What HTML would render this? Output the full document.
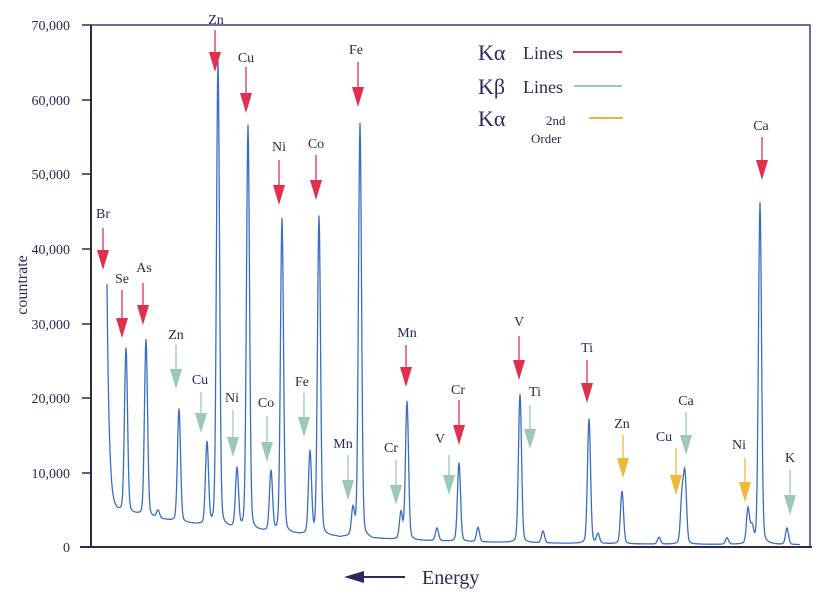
<!DOCTYPE html>
<html><head><style>
html,body{margin:0;padding:0;background:#fff;}
svg{display:block;font-family:"Liberation Serif",serif;}
</style></head><body>
<svg id="s" width="839" height="593" viewBox="0 0 839 593">
<rect x="91" y="25" width="719" height="522" fill="none" stroke="#3a3a8a" stroke-width="1.5"/>
<line x1="91" y1="25" x2="91" y2="547" stroke="#2a2a50" stroke-width="2"/>
<line x1="80" y1="547" x2="812" y2="547" stroke="#2a2a50" stroke-width="2"/>
<g fill="#2a2a50" font-size="14" text-anchor="end">
<text x="70" y="30">70,000</text><text x="70" y="105">60,000</text><text x="70" y="179">50,000</text>
<text x="70" y="254">40,000</text><text x="70" y="329">30,000</text><text x="70" y="403">20,000</text>
<text x="70" y="478">10,000</text><text x="70" y="552">0</text>
</g>
<g stroke="#2a2a50" stroke-width="1.5">
<line x1="82" y1="25" x2="91" y2="25"/><line x1="82" y1="100" x2="91" y2="100"/><line x1="82" y1="174" x2="91" y2="174"/>
<line x1="82" y1="249" x2="91" y2="249"/><line x1="82" y1="324" x2="91" y2="324"/><line x1="82" y1="398" x2="91" y2="398"/>
<line x1="82" y1="473" x2="91" y2="473"/>
</g>
<text transform="translate(27,285) rotate(-90)" font-size="16" fill="#2a2a50" text-anchor="middle">countrate</text>
<path id="spec" fill="none" stroke="#3a6fc0" stroke-width="1.3"/>
<g id="arr"></g>
<g font-size="22" fill="#2a2a60">
<text x="478" y="60">Kα</text><text x="478" y="94">Kβ</text><text x="478" y="126">Kα</text>
</g>
<g font-size="18" fill="#2a2a50"><text x="523" y="59">Lines</text><text x="523" y="93">Lines</text></g>
<g font-size="13" fill="#2a2a50"><text x="546" y="125">2nd</text><text x="531" y="143">Order</text></g>
<line x1="573" y1="52" x2="622" y2="52" stroke="#d84060" stroke-width="2"/>
<line x1="574" y1="86" x2="622" y2="86" stroke="#9cc8b8" stroke-width="2"/>
<line x1="589" y1="118" x2="623" y2="118" stroke="#f0b040" stroke-width="2"/>
<line x1="350" y1="577" x2="405" y2="577" stroke="#2a2a60" stroke-width="2"/>
<polygon points="344,577 364,571 364,583" fill="#2a2a60"/>
<text x="422" y="584" font-size="20" fill="#2a2a50">Energy</text>
</svg>
<script>
var Y=function(v){return 547-v*0.007457;};
var pk=[[126,26700],[146,27800],[158,4800],[179,18500],[207,13800],[218,65000],[237,10300],[248,56500],[271,10000],[282,44000],[310,12600],[319,44300],[340,1200],[353,4800],[360,56800],[373,1000],[401,4500],[407,19500],[437,2500],[459,11300],[478,2600],[520,20500],[543,2100],[589,17200],[598,1700],[622,7500],[659,1300],[682,6500],[685,9300],[727,1200],[748,5000],[752,2500],[760,46200],[787,2500]];
function base(x){return 4800*Math.exp(-(x-112)/150)+250;}
var d="";
for(var x=107;x<=800;x+=0.5){
 var b=base(x);
 b+=30000*Math.exp(-(x-107)/2.2);
 var v=b;
 for(var i=0;i<pk.length;i++){var dx=x-pk[i][0];var h=(pk[i][1]-base(pk[i][0]))*1.0;
  v+=h*(0.88*Math.exp(-dx*dx/(2*1.5*1.5))+0.12/(1+dx*dx/6));}
 d+=(x==107?"M":"L")+x+","+Y(v).toFixed(1);
}
document.getElementById("spec").setAttribute("d",d);
var R="#e03050",G="#9cc8b8",O="#f0b838";
var A=[["Br",103,218,103,228,270,R],["Se",122,283,122,290,338,R],["As",144,272,143,283,325,R],["Zn",216,24,215,30,72,R],["Cu",246,62,246,67,113,R],["Ni",279,151,279,160,205,R],["Co",316,148,316,155,200,R],["Fe",356,54,358,62,107,R],["Mn",407,337,406,345,387,R],["V",519,326,519,336,380,R],["Cr",458,394,459,400,445,R],["Ti",587,352,587,360,403,R],["Ca",761,130,762,137,180,R],
["Zn",176,339,176,345,389,G],["Cu",200,384,201,392,433,G],["Ni",232,402,233,410,457,G],["Co",266,407,267,416,462,G],["Fe",302,386,304,393,437,G],["Mn",343,448,348,455,500,G],["Cr",391,452,396,460,505,G],["V",440,443,449,455,495,G],["Ti",535,396,530,405,449,G],["Ca",686,405,686,412,455,G],["K",790,462,790,470,515,G],
["Zn",622,428,623,435,478,O],["Cu",664,441,676,448,495,O],["Ni",739,449,745,458,502,O]];
var s="";
A.forEach(function(a){
 s+='<text x="'+a[1]+'" y="'+a[2]+'" font-size="14" fill="#2a2a50" text-anchor="middle">'+a[0]+'</text>';
 var x=a[3],y0=a[4],y1=a[5];
 s+='<line x1="'+x+'" y1="'+y0+'" x2="'+x+'" y2="'+(y1-14)+'" stroke="'+a[6]+'" stroke-width="1.3"/>';
 s+='<polygon points="'+(x-6)+','+(y1-20)+' '+(x+6)+','+(y1-20)+' '+x+','+y1+'" fill="'+a[6]+'"/>';
});
document.getElementById("arr").innerHTML=s;
</script>
</body></html>
